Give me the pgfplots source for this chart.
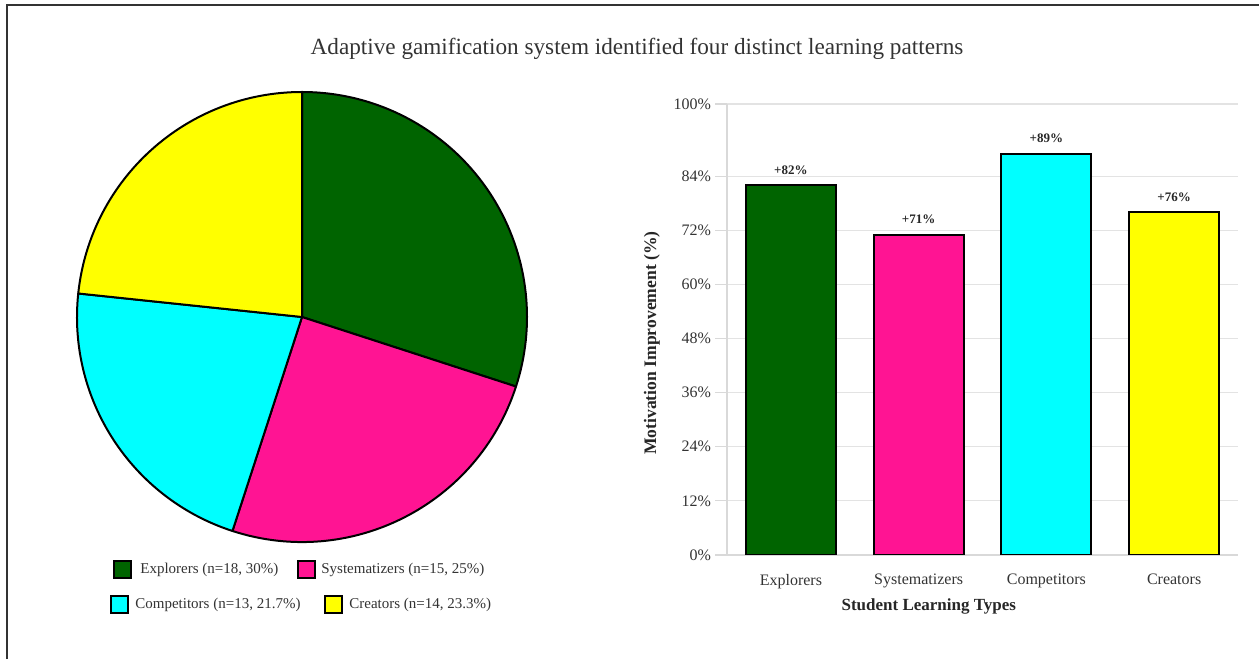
\documentclass[border=0pt]{standalone}
\usepackage{pgfplots}
\pgfplotsset{compat=1.18}
\usepackage{fontspec}
\setmainfont{Liberation Serif}
\definecolor{cExp}{HTML}{006400}
\definecolor{cSys}{HTML}{FF1493}
\definecolor{cCom}{HTML}{00FFFF}
\definecolor{cCre}{HTML}{FFFF00}
\definecolor{txt}{HTML}{333333}
\begin{document}
\begin{tikzpicture}[x=0.5pt,y=0.5pt]
\path[use as bounding box] (0,0) rectangle (1259,659);
\draw[black!80, line width=1pt] (7,0) -- (7,654) -- (1259,654);
\node[font=\fontsize{11.6}{13}\selectfont, text=txt] at (637,610) {Adaptive gamification system identified four distinct learning patterns};
% pie data: group sizes
\def\nE{18}\def\nS{15}\def\nC{13}\def\nR{14}
\pgfmathsetmacro\tot{\nE+\nS+\nC+\nR}
\pgfmathsetmacro\aA{90}
\pgfmathsetmacro\aB{\aA-360*\nE/\tot}
\pgfmathsetmacro\aC{\aB-360*\nS/\tot}
\pgfmathsetmacro\aD{\aC-360*\nC/\tot}
\pgfmathsetmacro\aE{\aD-360*\nR/\tot}
\def\R{112.5}
\begin{axis}[hide axis, x=1pt, y=1pt, xmin=-120, xmax=120, ymin=-120, ymax=120,
  at={(151pt,171pt)}, anchor=origin, clip=false]
\fill[cExp, draw=black, line width=1pt, line join=round] (axis cs:0,0) -- (axis cs:{\R*cos(\aA)},{\R*sin(\aA)}) arc[start angle=\aA, end angle=\aB, radius=\R pt] -- cycle;
\fill[cSys, draw=black, line width=1pt, line join=round] (axis cs:0,0) -- (axis cs:{\R*cos(\aB)},{\R*sin(\aB)}) arc[start angle=\aB, end angle=\aC, radius=\R pt] -- cycle;
\fill[cCom, draw=black, line width=1pt, line join=round] (axis cs:0,0) -- (axis cs:{\R*cos(\aC)},{\R*sin(\aC)}) arc[start angle=\aC, end angle=\aD, radius=\R pt] -- cycle;
\fill[cCre, draw=black, line width=1pt, line join=round] (axis cs:0,0) -- (axis cs:{\R*cos(\aD)},{\R*sin(\aD)}) arc[start angle=\aD, end angle=\aE, radius=\R pt] -- cycle;
\end{axis}
% pie legend
\begin{scope}[every node/.style={font=\fontsize{7.5}{9}\selectfont, text=txt, anchor=west, inner sep=0pt}]
\filldraw[fill=cExp, draw=black, line width=1pt] (114,81) rectangle (131,98);
\node at (140,89.5) {Explorers (n=18, 30\%)};
\filldraw[fill=cSys, draw=black, line width=1pt] (298,81) rectangle (315,98);
\node at (321,89.5) {Systematizers (n=15, 25\%)};
\filldraw[fill=cCom, draw=black, line width=1pt] (111,46) rectangle (128,63);
\node at (135,54.5) {Competitors (n=13, 21.7\%)};
\filldraw[fill=cCre, draw=black, line width=1pt] (325,46) rectangle (342,63);
\node at (349,54.5) {Creators (n=14, 23.3\%)};
\end{scope}
% bar chart
\begin{axis}[at={(363.5pt,52pt)}, anchor=south west, scale only axis,
  width=255.5pt, height=225.5pt,
  ymin=0, ymax=100, xmin=-0.5, xmax=3.5,
  ytick={0,12,24,36,48,60,72,84,100},
  /pgf/number format/assume math mode=true,
  yticklabel={\pgfmathprintnumber{\tick}\%},
  xtick={0,1,2,3},
  xticklabels={Explorers,Systematizers,Competitors,Creators},
  axis x line*=bottom, axis y line*=left,
  axis line style={draw=gray!30, line width=0.6pt, -},
  ymajorgrids, grid style={gray!22, line width=0.6pt},
  tick align=outside, major tick length=6pt,
  ytick style={draw=gray!30, line width=0.6pt}, xtick style={draw=none},
  ticklabel style={font=\fontsize{8}{9.6}\selectfont, text=txt},
  yticklabel style={xshift=1.5pt},
  xticklabel style={yshift=0pt},
  ybar, bar width=45pt,
  nodes near coords={\textbf{+\pgfmathprintnumber{\pgfplotspointmeta}\%}},
  nodes near coords style={font=\fontsize{6.5}{8}\selectfont, text=black!85, yshift=1.5pt},
  ylabel={\textbf{Motivation Improvement (\%)}},
  ylabel style={at={(axis description cs:-0.147,0.47)}, anchor=center, font=\fontsize{8.8}{11}\selectfont, text=black!85},
  xlabel={\textbf{Student Learning Types}},
  xlabel style={at={(axis description cs:0.395,-0.115)}, anchor=center, font=\fontsize{8.5}{11}\selectfont, text=black!85},
]
\addplot[fill=cExp, draw=black, line width=1pt, bar shift=0pt] coordinates {(0,82)};
\addplot[fill=cSys, draw=black, line width=1pt, bar shift=0pt] coordinates {(1,71)};
\addplot[fill=cCom, draw=black, line width=1pt, bar shift=0pt] coordinates {(2,89)};
\addplot[fill=cCre, draw=black, line width=1pt, bar shift=0pt] coordinates {(3,76)};
\end{axis}
\end{tikzpicture}
\end{document}
